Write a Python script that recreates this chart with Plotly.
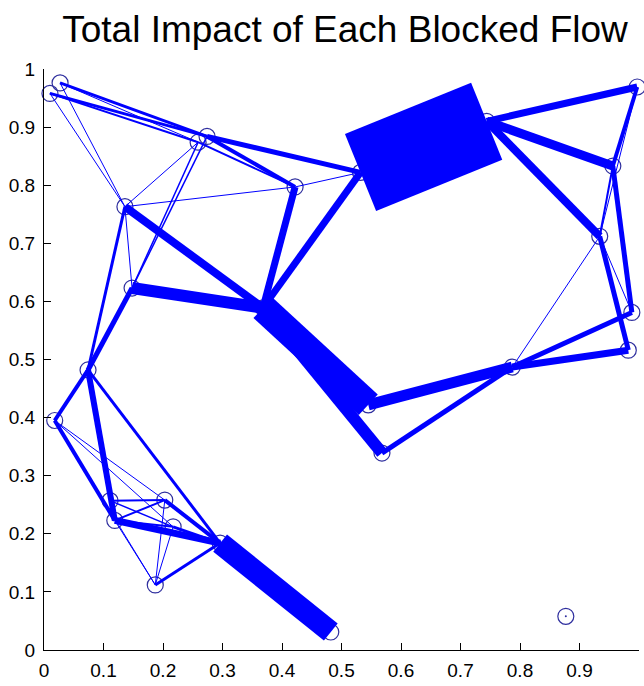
import plotly.graph_objects as go

# Node positions of the flow network
node_names = ["A", "B", "C1", "C2", "D", "E", "F", "G", "H", "I1", "I2", "J1", "J2", "K",
              "L", "M", "N", "O", "P", "Q", "R", "S", "T", "U", "V", "W", "X", "Y"]
node_x = [0.027, 0.010, 0.274, 0.259, 0.422, 0.136, 0.148, 0.074, 0.018, 0.111, 0.119, 0.203, 0.217, 0.187,
          0.296, 0.482, 0.877, 0.368, 0.545, 0.568, 0.787, 0.982, 0.988, 0.934, 0.956, 0.997, 0.744, 0.532]
node_y = [0.976, 0.958, 0.884, 0.874, 0.797, 0.763, 0.623, 0.482, 0.395, 0.257, 0.223, 0.258, 0.212, 0.112,
          0.184, 0.031, 0.058, 0.589, 0.422, 0.339, 0.487, 0.516, 0.581, 0.712, 0.833, 0.969, 0.910, 0.822]

# Links and the total impact of each blocked flow
edge_from = ["Y", "O", "L", "O", "O", "P", "E", "O", "O", "X", "X", "X", "I2", "R", "G", "C1",
             "F", "V", "U", "Q", "R", "C1", "C2", "G", "H", "J1", "W", "E", "G", "K", "J2", "A",
             "B", "B", "V", "I1", "I2", "I1", "I2", "F", "F", "A", "A", "B", "E", "E", "E", "D",
             "R", "U", "W", "H", "H", "H", "I2", "J1", "J2"]
edge_to = ["X", "P", "M", "Q", "F", "R", "O", "D", "Y", "V", "U", "W", "L", "S", "I2", "Y",
           "G", "T", "S", "R", "T", "D", "D", "H", "I2", "L", "V", "G", "L", "L", "L", "C1",
           "C1", "C2", "U", "J1", "J1", "J2", "J2", "C1", "C2", "C2", "E", "E", "C2", "F", "D", "Y",
           "U", "T", "U", "J1", "J2", "K", "K", "K", "K"]
impact = [83, 28, 22, 12, 12, 11, 8, 7, 7, 9, 8, 7, 7, 7, 6, 5,
          5, 5, 5, 5, 5, 4, 2, 4, 4, 4, 4, 3, 3, 3, 3, 3,
          3, 2, 2, 2, 2, 1.5, 2, 1.5, 1.5, 1, 1, 1, 1, 1, 1, 1,
          1, 1, 1, 1, 1, 1, 1, 1, 1]

LINE_COLOR = "#0000ff"
NODE_COLOR = "#2e2e9e"
PX_PER_IMPACT = 1.0

pos = {n: (x, y) for n, x, y in zip(node_names, node_x, node_y)}

fig = go.Figure()

# Node circles sit underneath the links
fig.add_trace(go.Scatter(
    x=node_x, y=node_y, mode="markers",
    marker=dict(symbol="circle-open", size=16, color=NODE_COLOR, line=dict(width=1.2, color=NODE_COLOR)),
    hoverinfo="text", text=node_names, showlegend=False, cliponaxis=False,
))
# Isolated node carries a centre dot
fig.add_trace(go.Scatter(
    x=[node_x[node_names.index("N")]], y=[node_y[node_names.index("N")]], mode="markers",
    marker=dict(symbol="circle", size=2, color=NODE_COLOR), showlegend=False, hoverinfo="skip",
))

# Group links of equal width into one trace each, widest drawn first
groups = {}
for a, b, w in zip(edge_from, edge_to, impact):
    groups.setdefault(w, []).append((a, b))
for w in sorted(groups, reverse=True):
    xs, ys = [], []
    for a, b in groups[w]:
        xs += [pos[a][0], pos[b][0], None]
        ys += [pos[a][1], pos[b][1], None]
    fig.add_trace(go.Scatter(
        x=xs, y=ys, mode="lines",
        line=dict(color=LINE_COLOR, width=w * PX_PER_IMPACT),
        hoverinfo="skip", showlegend=False,
    ))

tick_vals = [i / 10 for i in range(11)]
tick_text = ["0", "0.1", "0.2", "0.3", "0.4", "0.5", "0.6", "0.7", "0.8", "0.9", "1"]
tick_font = dict(family="Liberation Sans, Arial", size=19, color="black")

axis_common = dict(
    range=[0, 1], tickmode="array", tickvals=tick_vals, ticktext=tick_text,
    showgrid=False, zeroline=False, showline=True, linecolor="black", linewidth=1.3,
    ticks="inside", ticklen=7, tickwidth=1.3, tickcolor="black", mirror=False,
    tickfont=tick_font, fixedrange=True,
)

fig.update_layout(
    width=644, height=686,
    margin=dict(l=44, r=5, t=69, b=30),
    paper_bgcolor="white", plot_bgcolor="white",
    title=dict(
        text="Total Impact of Each Blocked Flow",
        font=dict(family="Liberation Sans, Arial", size=37, color="black"),
        x=345 / 644, xref="container", xanchor="center",
        y=1 - 29 / 686, yref="container", yanchor="middle",
    ),
    xaxis=dict(**axis_common, ticklabelstandoff=3),
    yaxis=dict(**axis_common, ticklabelstandoff=4),
)

fig.write_html("out.html")
